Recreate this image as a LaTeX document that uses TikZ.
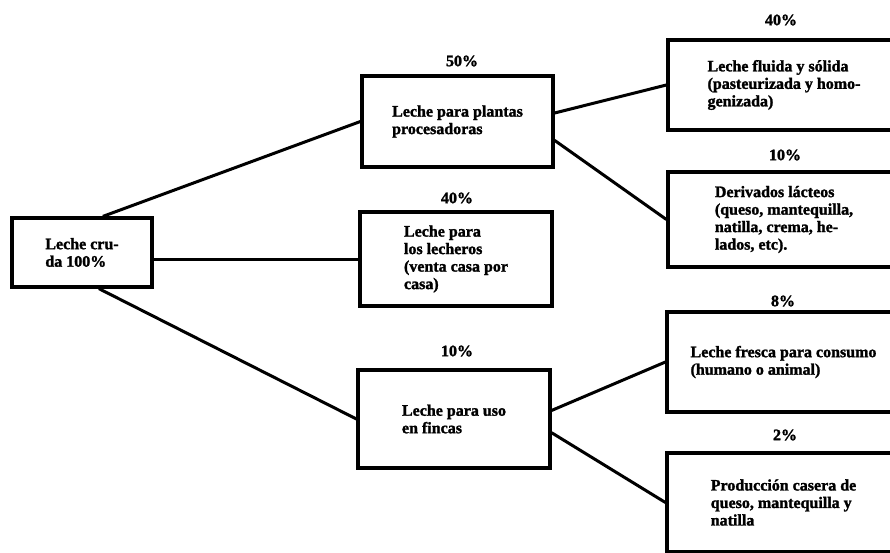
\documentclass[tikz,border=0pt]{standalone}
\usepackage{fontspec}
\setmainfont{Liberation Serif}[BoldFeatures={FakeBold=1.6}]
\usetikzlibrary{positioning, calc}
\tikzset{
    caja/.style={draw, line width=3.2pt, align=left, inner sep=0pt,
        font=\fontsize{16}{17.5}\selectfont\bfseries},
    pct/.style={font=\fontsize{16}{17.5}\selectfont\bfseries, inner sep=1pt},
    rama/.style={line width=3pt},
}

\begin{document}
\begin{tikzpicture}[x=1pt, y=-1pt]
        \useasboundingbox (0,0) rectangle (890,553);
        \clip (0,0) rectangle (890,553);

        % Leche cruda
        \node[caja, minimum width=140, minimum height=69] (cruda) at (82,252.5) {Leche cru-\\da 100\%};

        % Primer nivel
        \node[caja, minimum width=191, minimum height=91] (plantas) at (457.5,121.5) {Leche para plantas\\procesadoras};
        \node[caja, minimum width=192, minimum height=94] (lecheros) at (456,259) {Leche para\\los lecheros\\(venta casa por\\casa)};
        \node[caja, minimum width=192, minimum height=98] (fincas) at (454,419) {Leche para uso\\en fincas};

        \node[pct] (p50) at (462,61) {50\%};
        \node[pct] (p40) at (457,198) {40\%};
        \node[pct] (p10) at (457,351) {10\%};

        % Segundo nivel
        \node[caja, minimum width=232, minimum height=90] (fluida) at (784,85) {Leche fluida y sólida\\(pasteurizada y homo-\\genizada)};
        \node[caja, minimum width=232, minimum height=95] (derivados) at (784,219.5) {Derivados lácteos\\(queso, mantequilla,\\natilla, crema, he-\\lados, etc).};
        \node[caja, minimum width=233, minimum height=100] (fresca) at (783.5,362) {Leche fresca para consumo\\(humano o animal)};
        \node[caja, minimum width=233, minimum height=99] (casera) at (783.5,502.5) {Producción casera de\\queso, mantequilla y\\natilla};

        \node[pct] (q40) at (781,20) {40\%};
        \node[pct] (q10) at (785,155) {10\%};
        \node[pct] (q8) at (783,301) {8\%};
        \node[pct] (q2) at (785,435) {2\%};

        % Ramas
        \draw[rama] (cruda.60) -- (plantas.west);
        \draw[rama] (cruda.east |- lecheros.west) -- (lecheros.west);
        \draw[rama] (cruda.-65) -- (fincas.west);
        \draw[rama] (plantas.5) -- (fluida.west);
        \draw[rama] (plantas.-11) -- (derivados.west);
        \draw[rama] (fincas.5) -- (fresca.west);
        \draw[rama] (fincas.-8) -- (casera.west);
    \end{tikzpicture}
\end{document}
